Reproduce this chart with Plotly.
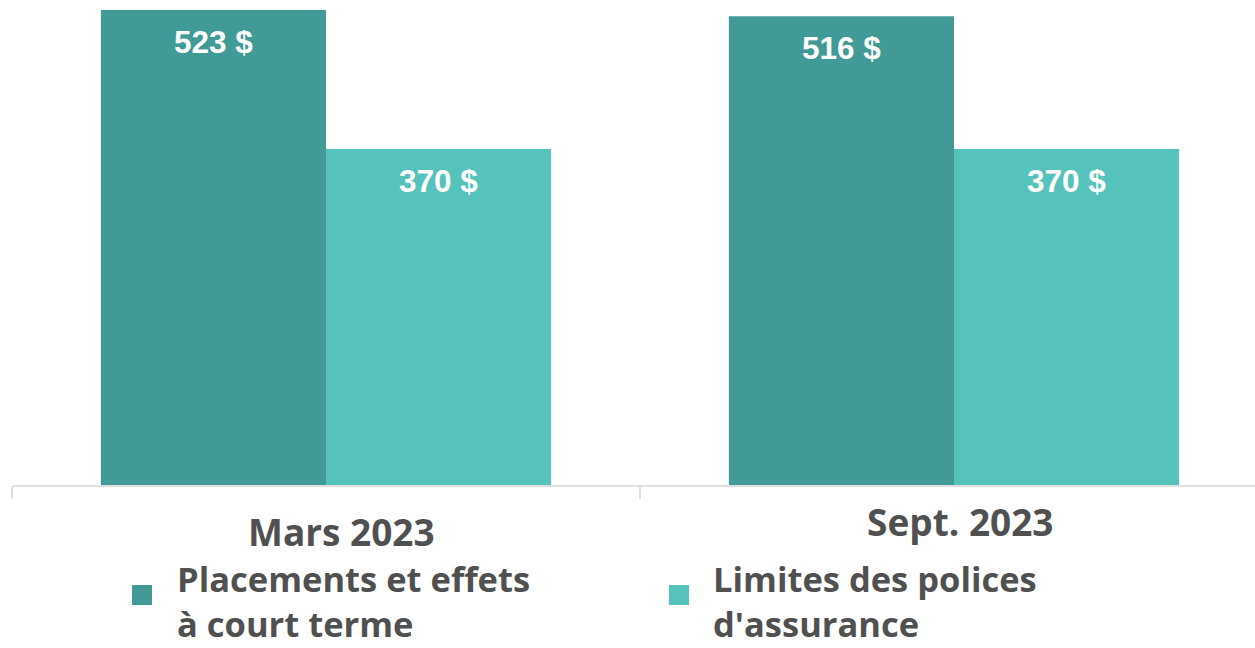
import plotly.graph_objects as go

# Chart data
periods = ["Mars 2023", "Sept. 2023"]
series_names = ["Placements et effets<br>à court terme", "Limites des polices<br>d'assurance"]
placements = [523, 516]
limites = [370, 370]
colors = ["#429A96", "#55C3BC"]

W, H = 1255, 648
M_L, M_B = 12, 163
TEXT_GRAY = "#505050"

fig = go.Figure()
for name, vals, col in zip(series_names, [placements, limites], colors):
    fig.add_trace(go.Bar(
        x=periods, y=vals, name=name,
        marker=dict(color=col, line=dict(width=0)),
        showlegend=False,
    ))

# value labels just inside the top of each bar
bargap = 0.283
bar_w = (1 - bargap) / 2
for k, vals in enumerate([placements, limites]):
    off = (k - 0.5) * bar_w
    for i, v in enumerate(vals):
        fig.add_annotation(
            x=i + off, y=v, xref="x", yref="y",
            text=f"{v} $", showarrow=False, yanchor="middle", yshift=-32,
            font=dict(family="Liberation Sans, Arial", size=31.5, color="white", weight="bold"),
        )

# category labels under the axis
cat_pos = [(0, 15, 531), (1, 6, 521)]
for (i, xs, py), lab in zip(cat_pos, periods):
    fig.add_annotation(
        x=i, xref="x", xshift=xs, y=(H - M_B - py) / (H - M_B), yref="paper",
        text=lab, showarrow=False, xanchor="center", yanchor="middle",
        font=dict(family="Open Sans", size=37, color=TEXT_GRAY, weight="bold"),
    )

# legend: squares plus two-line labels
plot_w = W - M_L
plot_h = H - M_B
leg_items = [(132, 177), (669, 713)]
for (sq_x, tx_x), name, col in zip(leg_items, series_names, colors):
    fig.add_shape(
        type="rect", xref="paper", yref="paper",
        x0=(sq_x - M_L) / plot_w, x1=(sq_x + 20 - M_L) / plot_w,
        y0=(plot_h - 605) / plot_h, y1=(plot_h - 585) / plot_h,
        fillcolor=col, line=dict(width=0),
    )
    fig.add_annotation(
        x=(tx_x - M_L) / plot_w, xref="paper", y=(plot_h - 601) / plot_h, yref="paper",
        text=name, showarrow=False, xanchor="left", yanchor="middle", align="left",
        borderpad=0, borderwidth=0,
        font=dict(family="Open Sans", size=34.5, color=TEXT_GRAY, weight="bold"),
    )

fig.update_layout(
    width=W, height=H,
    margin=dict(l=M_L, r=0, t=0, b=M_B, pad=0),
    barmode="group", bargap=bargap, bargroupgap=0,
    plot_bgcolor="white", paper_bgcolor="white",
    xaxis=dict(
        type="category",
        range=[-0.5, (W - M_L) / 628 - 0.5],
        showticklabels=False,
        tickson="boundaries", ticks="outside", ticklen=12, tickwidth=2,
        tickcolor="#E0E0E0", showline=True, linecolor="#E0E0E0", linewidth=2,
        showgrid=False, zeroline=False, fixedrange=True,
    ),
    yaxis=dict(
        range=[0, 534], visible=False, showgrid=False, zeroline=False, fixedrange=True,
    ),
    showlegend=False,
)

fig.write_html("out.html", config={"displayModeBar": False})
